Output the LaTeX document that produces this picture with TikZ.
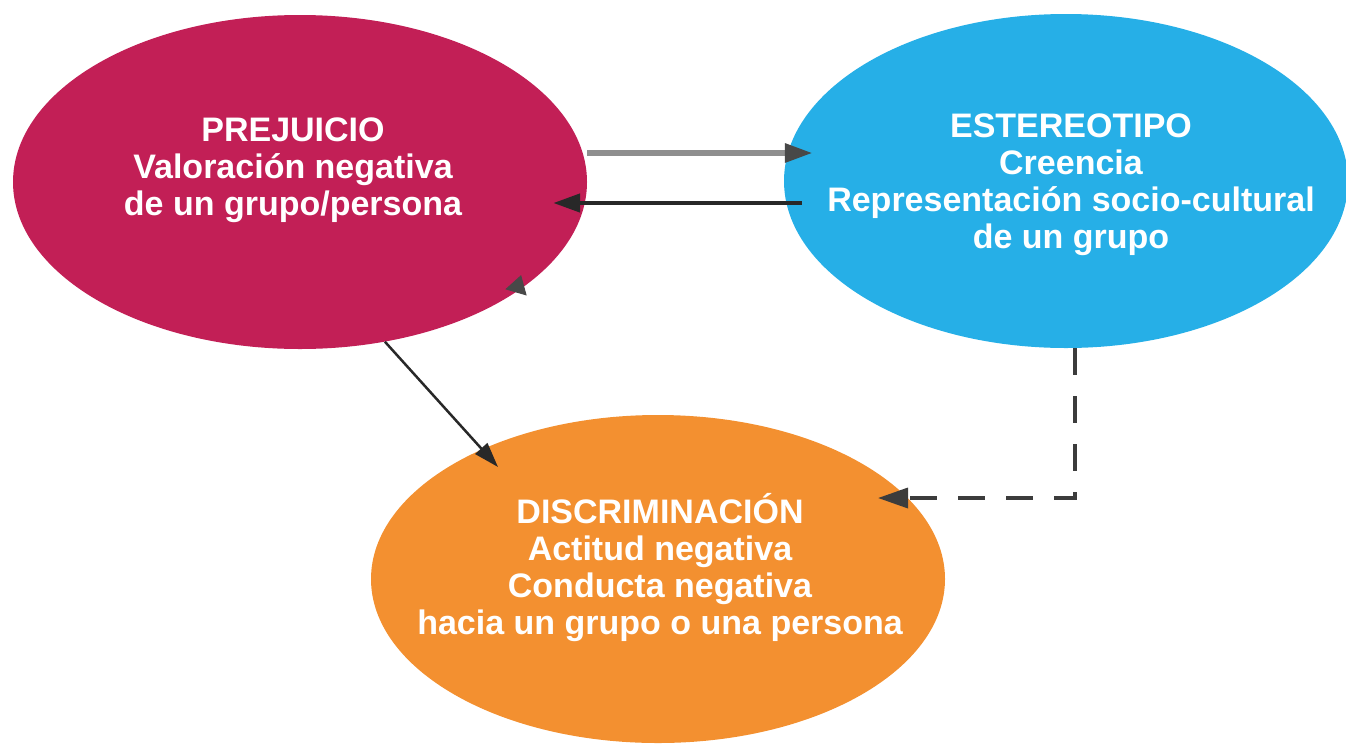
\documentclass[tikz,border=0pt]{standalone}
\usepackage{fontspec}
\setmainfont{Liberation Sans}
\usetikzlibrary{shapes.geometric,arrows.meta,calc}
\definecolor{pinkc}{RGB}{194,31,86}
\definecolor{bluec}{RGB}{38,175,231}
\definecolor{orangec}{RGB}{243,144,48}
\definecolor{lgray}{RGB}{143,143,143}
\definecolor{tipgray}{RGB}{72,72,72}
\definecolor{darkc}{RGB}{40,40,40}
\definecolor{dashc}{RGB}{60,60,60}
\tikzset{
  blob/.style={ellipse, draw=none, inner sep=0pt},
  txt/.style={font=\fontsize{34}{37}\selectfont\bfseries, text=white, align=center, inner sep=0pt},
  grayarrow/.style={draw=lgray, line width=6pt, -{Triangle[length=28pt,width=18pt,color=tipgray]}},
  darkarrow/.style={draw=darkc, line width=4.5pt, -{Triangle[length=27pt,width=18pt]}},
  diagarrow/.style={draw=darkc, line width=2.5pt, -{Triangle[length=25pt,width=16pt]}},
  dasharrow/.style={draw=dashc, line width=3.5pt, dash pattern=on 27pt off 21pt, -{Triangle[length=30pt,width=20pt]}},
  stubarrow/.style={draw=tipgray, line width=1pt, -{Triangle[length=18pt,width=22pt]}}
}
\begin{document}
\begin{tikzpicture}[x=1pt,y=1pt]
\useasboundingbox (0,0) rectangle (1346,-745);
% ellipses
\node[blob, fill=pinkc, minimum width=574pt, minimum height=334pt] (pink) at (300,-182) {};
\node[blob, fill=bluec, minimum width=564pt, minimum height=334pt] (blue) at (1066,-181) {};
\node[blob, fill=orangec, minimum width=574pt, minimum height=328pt] (orange) at (658,-579) {};
% texts
\node[txt] (ptext) at (293,-170) {PREJUICIO\\Valoración negativa\\de un grupo/persona};
\node[txt] (btext) at (1071,-185) {ESTEREOTIPO\\Creencia\\Representación socio-cultural\\de un grupo};
\node[txt] (otext) at (660,-568) {DISCRIMINACIÓN\\Actitud negativa\\Conducta negativa\\hacia un grupo o una persona};
% connectors
\draw[grayarrow] ([yshift=29pt]pink.east) -- ([xshift=29pt,yshift=28pt]blue.west);
\draw[darkarrow] ([xshift=18pt,yshift=-22pt]blue.west) -- ([xshift=-34pt,yshift=-21pt]pink.east);
\draw[diagarrow] (pink.-62) -- ($(orange.center)+(-160,112)$);
\draw[dasharrow] ([xshift=9pt]blue.south) |- ($(orange.center)+(220,81)$);
\draw[stubarrow] (pink.-27) -- ($(pink.-27)+(5,17)$);
\end{tikzpicture}
\end{document}
